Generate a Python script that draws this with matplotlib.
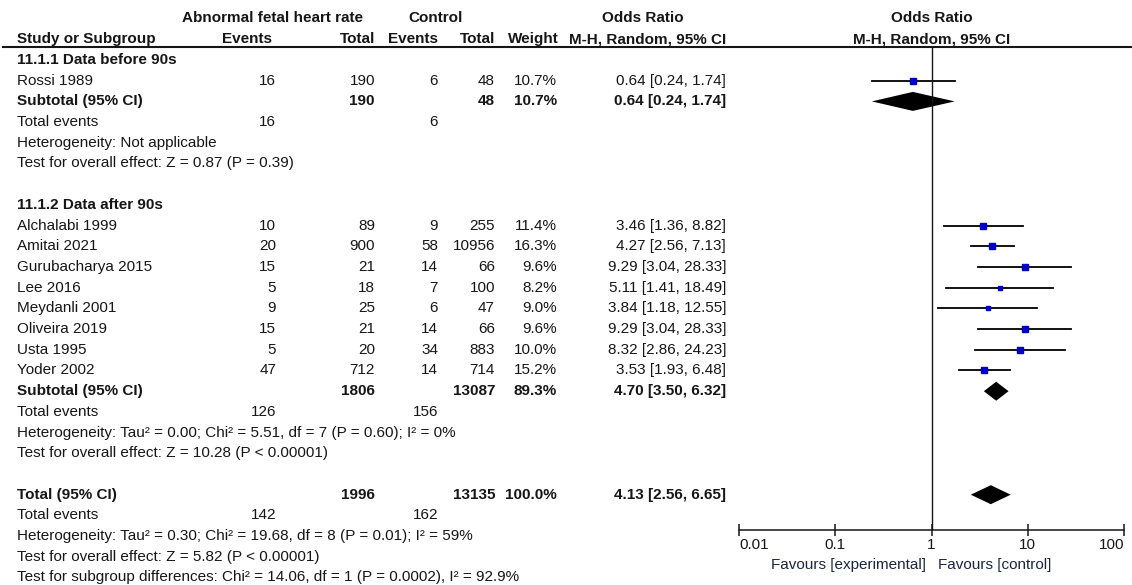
import matplotlib
matplotlib.use('Agg')
import matplotlib.pyplot as plt
import numpy as np

plt.rcParams['font.family'] = ['Liberation Sans', 'DejaVu Sans']
plt.rcParams['font.size'] = 11

# study level data, subgroup 11.1.1
studies1 = ['Rossi 1989']
ev_exp1 = [16]
tot_exp1 = [190]
ev_ctl1 = [6]
tot_ctl1 = [48]
weight1 = [10.7]
or1 = [0.64]
lo1 = [0.24]
hi1 = [1.74]

# subgroup 11.1.2
studies2 = ['Alchalabi 1999', 'Amitai 2021', 'Gurubacharya 2015', 'Lee 2016',
            'Meydanli 2001', 'Oliveira 2019', 'Usta 1995', 'Yoder 2002']
ev_exp2 = [10, 20, 15, 5, 9, 15, 5, 47]
tot_exp2 = [89, 900, 21, 18, 25, 21, 20, 712]
ev_ctl2 = [9, 58, 14, 7, 6, 14, 34, 14]
tot_ctl2 = [255, 10956, 66, 100, 47, 66, 883, 714]
weight2 = [11.4, 16.3, 9.6, 8.2, 9.0, 9.6, 10.0, 15.2]
or2 = [3.46, 4.27, 9.29, 5.11, 3.84, 9.29, 8.32, 3.53]
lo2 = [1.36, 2.56, 3.04, 1.41, 1.18, 3.04, 2.86, 1.93]
hi2 = [8.82, 7.13, 28.33, 18.49, 12.55, 28.33, 24.23, 6.48]

# pooled results: total exp, total ctl, weight, OR, lower, upper, events exp, events ctl
sub1 = [190, 48, 10.7, 0.64, 0.24, 1.74, 16, 6]
sub2 = [1806, 13087, 89.3, 4.70, 3.50, 6.32, 126, 156]
overall = [1996, 13135, 100.0, 4.13, 2.56, 6.65, 142, 162]

het1 = 'Heterogeneity: Not applicable'
eff1 = 'Test for overall effect: Z = 0.87 (P = 0.39)'
het2 = 'Heterogeneity: Tau² = 0.00; Chi² = 5.51, df = 7 (P = 0.60); I² = 0%'
eff2 = 'Test for overall effect: Z = 10.28 (P < 0.00001)'
het_all = 'Heterogeneity: Tau² = 0.30; Chi² = 19.68, df = 8 (P = 0.01); I² = 59%'
eff_all = 'Test for overall effect: Z = 5.82 (P < 0.00001)'
sub_diff = 'Test for subgroup differences: Chi² = 14.06, df = 1 (P = 0.0002), I² = 92.9%'

W, H = 1132, 585
fig = plt.figure(figsize=(W / 100, H / 100), dpi=100)
tx = fig.add_axes([0, 0, 1, 1])
tx.set_xlim(0, W)
tx.set_ylim(H, 0)
tx.axis('off')

fx0, fx1 = 739, 1124
fx = fig.add_axes([fx0 / W, 0, (fx1 - fx0) / W, 1])
fx.set_xscale('log')
fx.set_xlim(0.01, 100)
fx.set_ylim(H, 0)
fx.patch.set_alpha(0)

ink = '#161616'
col_ev_e, col_tot_e, col_ev_c, col_tot_c, col_w, col_or = 276, 375, 438, 495, 557, 726
name_x = 17
step = 20.7


def txt(x, y, s, ha='right', bold=False, color=ink):
    tx.text(x, y, s, ha=ha, va='center', color=color,
            fontweight='bold' if bold else 'normal')


def ci_text(o, l, h):
    return f'{o:.2f} [{l:.2f}, {h:.2f}]'


# column headers
txt(272, 18, 'Abnormal fetal heart rate', ha='center', bold=True)
txt(436, 18, 'Control', ha='center', bold=True)
txt(643, 18, 'Odds Ratio', ha='center', bold=True)
txt(932, 18, 'Odds Ratio', ha='center', bold=True)
yh = 39
txt(name_x, yh, 'Study or Subgroup', ha='left', bold=True)
txt(272, yh, 'Events', bold=True)
txt(col_tot_e, yh, 'Total', bold=True)
txt(col_ev_c, yh, 'Events', bold=True)
txt(col_tot_c, yh, 'Total', bold=True)
txt(559, yh, 'Weight', bold=True)
txt(726, yh, 'M-H, Random, 95% CI', bold=True)
txt(932, yh, 'M-H, Random, 95% CI', ha='center', bold=True)
tx.plot([3, W], [47, 47], color=ink, lw=1.5)


def diamond(y, o, l, h):
    fx.fill([l, o, h, o], [y, y - 9.5, y, y + 9.5], color='black', lw=0)


def group(y, title, names, ee, te, ec, tc, w, o, l, h, sub, het, eff):
    txt(name_x, y, title, ha='left', bold=True)
    y += step
    for i, nm in enumerate(names):
        txt(name_x, y, nm, ha='left')
        txt(col_ev_e, y, str(ee[i]))
        txt(col_tot_e, y, str(te[i]))
        txt(col_ev_c, y, str(ec[i]))
        txt(col_tot_c, y, str(tc[i]))
        txt(col_w, y, f'{w[i]:.1f}%')
        txt(col_or, y, ci_text(o[i], l[i], h[i]))
        fx.plot([l[i], h[i]], [y, y], color='black', lw=1.3)
        side = 1.65 * np.sqrt(w[i]) * 0.72
        fx.plot(o[i], y, marker='s', ms=side, color='#0000c8', mec='#0000c8')
        y += step
    txt(name_x, y, 'Subtotal (95% CI)', ha='left', bold=True)
    txt(col_tot_e, y, str(sub[0]), bold=True)
    txt(col_tot_c, y, str(sub[1]), bold=True)
    txt(col_w, y, f'{sub[2]:.1f}%', bold=True)
    txt(col_or, y, ci_text(sub[3], sub[4], sub[5]), bold=True)
    diamond(y, sub[3], sub[4], sub[5])
    y += step
    txt(name_x, y, 'Total events', ha='left')
    txt(col_ev_e, y, str(sub[6]))
    txt(col_ev_c, y, str(sub[7]))
    y += step
    txt(name_x, y, het, ha='left')
    y += step
    txt(name_x, y, eff, ha='left')
    return y + 2 * step


y = 60
y = group(y, '11.1.1 Data before 90s', studies1, ev_exp1, tot_exp1, ev_ctl1,
          tot_ctl1, weight1, or1, lo1, hi1, sub1, het1, eff1)
y = group(y, '11.1.2 Data after 90s', studies2, ev_exp2, tot_exp2, ev_ctl2,
          tot_ctl2, weight2, or2, lo2, hi2, sub2, het2, eff2)

# overall pooled estimate
txt(name_x, y, 'Total (95% CI)', ha='left', bold=True)
txt(col_tot_e, y, str(overall[0]), bold=True)
txt(col_tot_c, y, str(overall[1]), bold=True)
txt(col_w, y, f'{overall[2]:.1f}%', bold=True)
txt(col_or, y, ci_text(overall[3], overall[4], overall[5]), bold=True)
diamond(y, overall[3], overall[4], overall[5])
y += step
txt(name_x, y, 'Total events', ha='left')
txt(col_ev_e, y, str(overall[6]))
txt(col_ev_c, y, str(overall[7]))
for line in [het_all, eff_all, sub_diff]:
    y += step
    txt(name_x, y, line, ha='left')

# log axis with line of no effect
axis_y = 530
fx.vlines(1, 47, axis_y, color=ink, lw=1)
for s in ['top', 'right', 'left']:
    fx.spines[s].set_visible(False)
fx.spines['bottom'].set_position(('data', axis_y))
fx.spines['bottom'].set_color(ink)
fx.spines['bottom'].set_linewidth(1.1)
fx.set_yticks([])
ticks = [0.01, 0.1, 1, 10, 100]
fx.set_xticks(ticks)
fx.set_xticklabels(['0.01', '0.1', '1', '10', '100'])
fx.minorticks_off()
fx.tick_params(axis='x', direction='inout', length=9, width=1.1, color=ink,
               labelsize=11, labelcolor=ink, pad=1)
labels = fx.get_xticklabels()
labels[0].set_ha('left')
labels[-1].set_ha('right')
tx.text(926, 565, 'Favours [experimental]', ha='right', va='center', color='#1c2444')
tx.text(938, 565, 'Favours [control]', ha='left', va='center', color='#1c2444')

fig.savefig('out.png', dpi=100)
